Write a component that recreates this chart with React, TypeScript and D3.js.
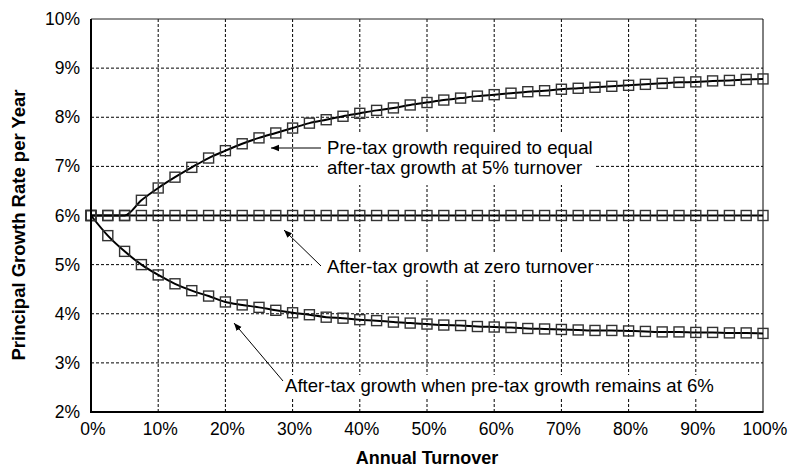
import React from "react";
import * as d3 from "d3";

const turnover = [0, 2.5, 5, 7.5, 10, 12.5, 15, 17.5, 20, 22.5, 25, 27.5, 30, 32.5, 35, 37.5, 40, 42.5, 45, 47.5, 50, 52.5, 55, 57.5, 60, 62.5, 65, 67.5, 70, 72.5, 75, 77.5, 80, 82.5, 85, 87.5, 90, 92.5, 95, 97.5, 100];

const preTaxRequired = [6.0, 6.0, 6.0, 6.31, 6.56, 6.78, 6.98, 7.17, 7.32, 7.46, 7.58, 7.68, 7.78, 7.88, 7.95, 8.02, 8.08, 8.14, 8.19, 8.25, 8.3, 8.35, 8.39, 8.43, 8.46, 8.49, 8.52, 8.54, 8.57, 8.59, 8.61, 8.63, 8.65, 8.67, 8.69, 8.71, 8.72, 8.74, 8.75, 8.77, 8.78];

const afterTaxZero = [6, 6, 6, 6, 6, 6, 6, 6, 6, 6, 6, 6, 6, 6, 6, 6, 6, 6, 6, 6, 6, 6, 6, 6, 6, 6, 6, 6, 6, 6, 6, 6, 6, 6, 6, 6, 6, 6, 6, 6, 6];

const afterTaxConstant = [6.0, 5.59, 5.27, 5.0, 4.79, 4.61, 4.47, 4.36, 4.24, 4.18, 4.13, 4.07, 4.02, 3.98, 3.93, 3.91, 3.88, 3.86, 3.83, 3.81, 3.79, 3.77, 3.76, 3.74, 3.73, 3.72, 3.7, 3.69, 3.68, 3.67, 3.66, 3.66, 3.65, 3.64, 3.63, 3.63, 3.62, 3.62, 3.61, 3.61, 3.6];

const xTicks = [0, 10, 20, 30, 40, 50, 60, 70, 80, 90, 100];
const yTicks = [2, 3, 4, 5, 6, 7, 8, 9, 10];

const annotations = [
  { lines: ["Pre-tax growth required to equal", "after-tax growth at 5% turnover"], tx: 327, ty: 154, from: [321, 148], to: [271, 148], box: [318, 134, 277, 51] },
  { lines: ["After-tax growth at zero turnover"], tx: 327, ty: 273, from: [321, 266], to: [284, 230], box: [312, 252, 283, 28] },
  { lines: ["After-tax growth when pre-tax growth remains at 6%"], tx: 285, ty: 392, from: [283, 381], to: [234, 323], box: [282, 375, 438, 23] },
];

const FONT = "'Liberation Sans', Arial, sans-serif";

export default function App() {
  const W = 791, H = 468;
  const L = 91, R = 763, T = 19, B = 412;
  const x = d3.scaleLinear().domain([0, 100]).range([L, R]);
  const y = d3.scaleLinear().domain([2, 10]).range([B, T]);

  const series = [preTaxRequired, afterTaxZero, afterTaxConstant];
  const line = d3
    .line<number>()
    .x((_, i) => x(turnover[i]))
    .y((d) => y(d))
    .curve(d3.curveMonotoneX);

  const ms = 10;

  return (
    <svg width={W} height={H} style={{ position: "absolute", left: 0, top: 0, background: "#fff" }} fontFamily={FONT}>
      <defs>
        <marker id="ah" viewBox="0 0 10 10" refX="10" refY="5" markerWidth="8" markerHeight="8" markerUnits="userSpaceOnUse" orient="auto">
          <path d="M0,1 L10,5 L0,9 z" fill="#000" />
        </marker>
      </defs>
      <rect x={0} y={0} width={W} height={H} fill="#fff" />
      {/* gridlines */}
      {xTicks.slice(1, -1).map((t) => (
        <line key={"gx" + t} x1={x(t)} x2={x(t)} y1={T} y2={B} stroke="#000" strokeWidth={1} strokeDasharray="3,2" />
      ))}
      {yTicks.slice(1, -1).map((t) => (
        <line key={"gy" + t} x1={L} x2={R} y1={y(t)} y2={y(t)} stroke="#000" strokeWidth={1} strokeDasharray="3,2" />
      ))}
      {/* frame */}
      <line x1={L} x2={R} y1={T} y2={T} stroke="#222" strokeWidth={1} />
      <line x1={R} x2={R} y1={T} y2={B} stroke="#000" strokeWidth={1} />
      {/* annotation backgrounds */}
      {annotations.map((a, k) => (
        <rect key={"bg" + k} x={a.box[0]} y={a.box[1]} width={a.box[2]} height={a.box[3]} fill="#fff" />
      ))}
      {/* series lines */}
      {series.map((s, k) => (
        <path key={"l" + k} d={line(s) || ""} fill="none" stroke="#000" strokeWidth={2} />
      ))}
      {/* markers */}
      {series.map((s, k) =>
        s.map((v, i) => (
          <rect
            key={"m" + k + "-" + i}
            x={x(turnover[i]) - ms / 2}
            y={y(v) - ms / 2}
            width={ms}
            height={ms}
            fill="none"
            stroke="#333"
            strokeWidth={1.4}
          />
        ))
      )}
      <line x1={L} x2={L} y1={T} y2={B + 1} stroke="#000" strokeWidth={2} />
      <line x1={L - 1} x2={R + 0.5} y1={B} y2={B} stroke="#000" strokeWidth={2} />
      {/* y tick labels */}
      {yTicks.map((t) => (
        <text key={"yt" + t} x={80} y={y(t) + 6} textAnchor="end" fontSize={17.5} fill="#000">
          {t + "%"}
        </text>
      ))}
      {/* x tick labels */}
      {xTicks.map((t) => (
        <text key={"xt" + t} x={x(t) + 2} y={435} textAnchor="middle" fontSize={17.5} fill="#000">
          {t + "%"}
        </text>
      ))}
      {/* axis titles */}
      <text x={427} y={464} textAnchor="middle" fontSize={18} fontWeight="bold" fill="#000">
        Annual Turnover
      </text>
      <text transform={`translate(25,225) rotate(-90)`} textAnchor="middle" fontSize={18.5} fontWeight="bold" fill="#000">
        Principal Growth Rate per Year
      </text>
      {/* annotations */}
      {annotations.map((a, k) => (
        <g key={"a" + k}>
          <line x1={a.from[0]} y1={a.from[1]} x2={a.to[0]} y2={a.to[1]} stroke="#000" strokeWidth={1} markerEnd="url(#ah)" />
          {a.lines.map((ln, j) => (
            <text key={j} x={a.tx} y={a.ty + j * 20} fontSize={18.6} fill="#000">
              {ln}
            </text>
          ))}
        </g>
      ))}
    </svg>
  );
}
